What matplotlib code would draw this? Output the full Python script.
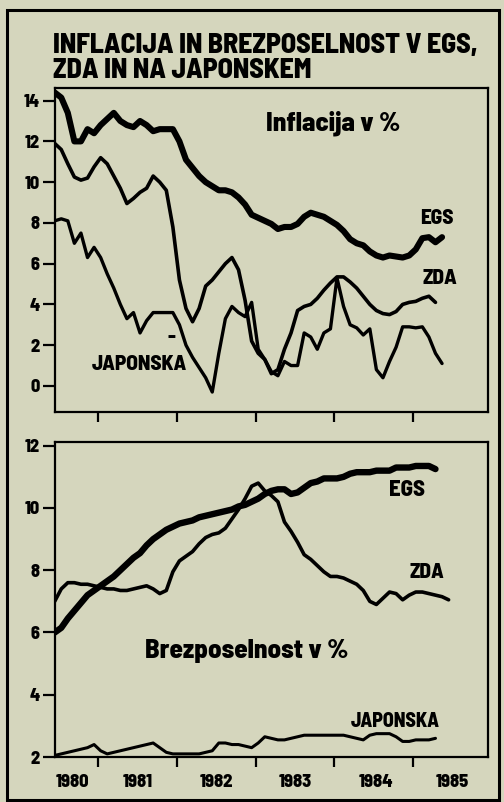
import numpy as np
import matplotlib
matplotlib.use('Agg')
import matplotlib.pyplot as plt
from matplotlib import font_manager
from matplotlib.patches import Rectangle
from matplotlib.transforms import blended_transform_factory

# monthly series, first point about June 1980
start = 1980.45

infl_egs = [14.4, 14.15, 13.4, 12.0, 12.0, 12.6, 12.4, 12.8, 13.1, 13.4,
            13.0, 12.8, 12.7, 13.0, 12.8, 12.5, 12.6, 12.6, 12.6, 12.0,
            11.1, 10.7, 10.3, 10.0, 9.8, 9.6, 9.6, 9.5, 9.25, 8.9,
            8.4, 8.25, 8.1, 7.95, 7.7, 7.8, 7.8, 7.95, 8.3, 8.5,
            8.4, 8.3, 8.1, 7.9, 7.6, 7.2, 7.0, 6.9, 6.6, 6.4,
            6.3, 6.4, 6.35, 6.3, 6.4, 6.7, 7.25, 7.3, 7.05, 7.3]
infl_zda = [11.9, 11.6, 10.9, 10.25, 10.1, 10.2, 10.75, 11.2, 10.9, 10.3,
            9.7, 8.95, 9.2, 9.5, 9.7, 10.3, 10.0, 9.6, 7.8, 5.2,
            3.8, 3.15, 3.8, 4.9, 5.2, 5.6, 6.0, 6.3, 5.7, 4.2,
            2.2, 1.6, 1.3, 0.6, 0.8, 1.8, 2.6, 3.7, 3.9, 4.0,
            4.3, 4.7, 5.05, 5.35, 5.35, 5.1, 4.8, 4.4, 4.0, 3.7,
            3.55, 3.5, 3.65, 4.0, 4.1, 4.15, 4.3, 4.4, 4.1]
infl_jap = [8.1, 8.2, 8.1, 7.0, 7.5, 6.3, 6.8, 6.3, 5.5, 4.8,
            4.0, 3.3, 3.6, 2.6, 3.2, 3.6, 3.6, 3.6, 3.6, 3.0,
            2.0, 1.4, 0.9, 0.4, -0.3, 1.6, 3.3, 3.9, 3.6, 3.4,
            4.1, 1.8, 1.3, 0.7, 0.5, 1.2, 1.0, 1.0, 2.6, 2.4,
            1.8, 2.6, 2.8, 5.3, 3.9, 3.0, 2.85, 2.5, 2.8, 0.8,
            0.4, 1.2, 1.9, 2.9, 2.9, 2.85, 2.9, 2.4, 1.6, 1.1]

unemp_egs = [6.0, 6.15, 6.45, 6.7, 6.95, 7.2, 7.35, 7.5, 7.65, 7.8,
             8.0, 8.2, 8.4, 8.55, 8.8, 9.0, 9.15, 9.3, 9.4, 9.5,
             9.55, 9.6, 9.7, 9.75, 9.8, 9.85, 9.9, 9.95, 10.05, 10.1,
             10.2, 10.3, 10.45, 10.55, 10.6, 10.6, 10.45, 10.5, 10.65, 10.8,
             10.85, 10.95, 10.95, 10.95, 11.0, 11.1, 11.15, 11.15, 11.15, 11.2,
             11.2, 11.2, 11.3, 11.3, 11.3, 11.35, 11.35, 11.35, 11.25]
unemp_zda = [7.0, 7.4, 7.6, 7.6, 7.55, 7.55, 7.5, 7.45, 7.4, 7.4,
             7.35, 7.35, 7.4, 7.45, 7.5, 7.4, 7.25, 7.35, 7.95, 8.3,
             8.45, 8.6, 8.85, 9.05, 9.15, 9.2, 9.35, 9.65, 9.95, 10.3,
             10.7, 10.8, 10.55, 10.4, 10.2, 9.55, 9.25, 8.9, 8.5, 8.35,
             8.15, 7.95, 7.8, 7.8, 7.75, 7.65, 7.55, 7.35, 7.0, 6.9,
             7.1, 7.3, 7.25, 7.05, 7.2, 7.3, 7.3, 7.25, 7.2, 7.15, 7.05]
unemp_jap = [2.05, 2.1, 2.15, 2.2, 2.25, 2.3, 2.4, 2.2, 2.1, 2.15,
             2.2, 2.25, 2.3, 2.35, 2.4, 2.45, 2.3, 2.15, 2.1, 2.1,
             2.1, 2.1, 2.1, 2.15, 2.2, 2.45, 2.45, 2.4, 2.4, 2.35,
             2.3, 2.45, 2.65, 2.6, 2.55, 2.55, 2.6, 2.65, 2.7, 2.7,
             2.7, 2.7, 2.7, 2.7, 2.7, 2.65, 2.6, 2.55, 2.7, 2.75,
             2.75, 2.75, 2.65, 2.5, 2.5, 2.55, 2.55, 2.55, 2.6]

years = [1981, 1982, 1983, 1984, 1985]
year_labels = ['1980', '1981', '1982', '1983', '1984', '1985']
year_label_pos = [1980.68, 1981.5, 1982.5, 1983.5, 1984.53, 1985.5]

TITLE1 = 'INFLACIJA IN BREZPOSELNOST V EGS,'
TITLE2 = 'ZDA IN NA JAPONSKEM'


def months(vals):
    return start + np.arange(len(vals)) / 12.0


bg = '#d5d6bd'
fig = plt.figure(figsize=(5.04, 8.02), dpi=100, facecolor=bg)
renderer = fig.canvas.get_renderer()


# candidate bold faces; keep the one whose title width at the printed
# cap height (20 px) comes closest to the 425 px of the print
def candidates():
    out = []
    for f in font_manager.fontManager.ttflist:
        fn = f.fname.lower()
        if ('condensed' in fn or 'narrow' in fn) and 'bold' in fn \
                and 'italic' not in fn and 'oblique' not in fn:
            out.append(font_manager.FontProperties(fname=f.fname))
    for fam in ['Roboto', 'Liberation Sans', 'Lato', 'Inter', 'Open Sans',
                'Noto Sans', 'DejaVu Sans']:
        try:
            font_manager.findfont(font_manager.FontProperties(family=fam, weight='bold'),
                                  fallback_to_default=False)
            out.append(font_manager.FontProperties(family=fam, weight='bold'))
        except Exception:
            pass
    return out


best, best_err = None, None
for cand in candidates():
    p = cand.copy()
    p.set_size(20)
    t = fig.text(0, 0, TITLE1, fontproperties=p)
    w = t.get_window_extent(renderer).width
    t.remove()
    err = abs(w - 425)
    if best is None or err < best_err:
        best, best_err = cand, err


def fp(size):
    p = best.copy()
    p.set_size(size)
    return p


def fit(t, width_px, cap_px):
    # size by the cap height of the print, but never wider than it
    w = t.get_window_extent(renderer).width
    t.set_fontsize(min(t.get_fontsize() * width_px / w, cap_px * 1.02))


# outer frame
fig.patches.append(Rectangle((7 / 504, 2 / 802), 492 / 504, 790 / 802,
                             transform=fig.transFigure, fill=False,
                             lw=2.2, ec='black'))

t = fig.text(53 / 504, 1 - 45 / 802, TITLE1, fontproperties=fp(20),
             va='center', ha='left')
fit(t, 425, 20)
t2 = fig.text(53 / 504, 1 - 71 / 802, TITLE2, fontproperties=fp(20),
              va='center', ha='left')
t2.set_fontsize(t.get_fontsize())

ax1 = fig.add_axes([55 / 504, 1 - 412 / 802, 433 / 504, 324 / 802])
ax2 = fig.add_axes([55 / 504, 1 - 757 / 802, 433 / 504, 315 / 802])

for ax in (ax1, ax2):
    ax.set_facecolor(bg)
    for s in ax.spines.values():
        s.set_linewidth(1.6)
    ax.set_xlim(1980.454, 1985.95)
    ax.set_xticks(years)
    ax.set_xticklabels([])
    ax.tick_params(axis='x', direction='out', length=7, width=1.6)
    ax.tick_params(axis='y', direction='out', length=9, width=1.6, pad=2)

# inflation
ax1.plot(months(infl_egs), infl_egs, color='black', lw=4.4,
         solid_joinstyle='round', solid_capstyle='round')
ax1.plot(months(infl_zda), infl_zda, color='black', lw=2.6,
         solid_joinstyle='round', solid_capstyle='round')
ax1.plot(months(infl_jap), infl_jap, color='black', lw=2.4,
         solid_joinstyle='round', solid_capstyle='round')
ax1.set_ylim(-1.28, 14.62)
ax1.set_yticks(range(0, 15, 2))
ax1.set_yticklabels([str(v) for v in range(0, 15, 2)], fontproperties=fp(13))

t = ax1.text(1983.98, 12.9, 'Inflacija v %', fontproperties=fp(20),
             ha='center', va='center')
fit(t, 153, 19)
t = ax1.text(1985.3, 8.24, 'EGS', fontproperties=fp(13), ha='center', va='center')
fit(t, 40, 15)
t = ax1.text(1985.34, 5.25, 'ZDA', fontproperties=fp(13), ha='center', va='center')
fit(t, 43, 15)
t = ax1.text(1981.53, 1.03, 'JAPONSKA', fontproperties=fp(13), ha='center', va='center')
fit(t, 100, 15)
ax1.text(1981.93, 2.4, '-', fontproperties=fp(15), ha='center', va='center')

# unemployment
ax2.plot(months(unemp_egs), unemp_egs, color='black', lw=4.6,
         solid_joinstyle='round', solid_capstyle='round')
ax2.plot(months(unemp_zda), unemp_zda, color='black', lw=2.6,
         solid_joinstyle='round', solid_capstyle='round')
ax2.plot(months(unemp_jap), unemp_jap, color='black', lw=2.2,
         solid_joinstyle='round', solid_capstyle='round')
ax2.set_ylim(2, 12.12)
ax2.set_yticks(range(2, 13, 2))
ax2.set_yticklabels([str(v) for v in range(2, 13, 2)], fontproperties=fp(13))

t = ax2.text(1982.89, 5.4, 'Brezposelnost v %', fontproperties=fp(20),
             ha='center', va='center')
fit(t, 211, 19)
t = ax2.text(1984.92, 10.58, 'EGS', fontproperties=fp(14), ha='center', va='center')
fit(t, 68, 16)
t = ax2.text(1985.17, 7.92, 'ZDA', fontproperties=fp(13), ha='center', va='center')
fit(t, 42, 15)
t = ax2.text(1984.77, 3.13, 'JAPONSKA', fontproperties=fp(13), ha='center', va='center')
fit(t, 104, 14)

tr = blended_transform_factory(ax2.transData, fig.transFigure)
for pos, lab in zip(year_label_pos, year_labels):
    t = ax2.text(pos, 1 - 782 / 802, lab, transform=tr, fontproperties=fp(13),
                 ha='center', va='center')
    fit(t, 38, 13)

fig.savefig('out.png', dpi=100, facecolor=bg)
